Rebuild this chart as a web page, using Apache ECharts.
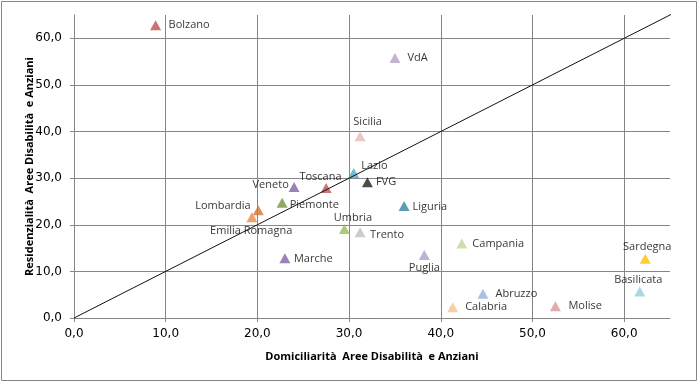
<!DOCTYPE html>
<html><head><meta charset="utf-8">
<script src="https://cdn.jsdelivr.net/npm/echarts@6/dist/echarts.min.js"></script>
<style>html,body{margin:0;padding:0;background:#fff}#c{width:698px;height:383px}</style>
</head><body><div id="c"></div>
<script>
// ---- data ----
const regions = ['Bolzano','VdA','Sicilia','Lazio','FVG','Toscana','Veneto','Piemonte','Lombardia','Emilia Romagna','Marche','Umbria','Trento','Liguria','Campania','Puglia','Sardegna','Basilicata','Abruzzo','Calabria','Molise'];
const domiciliarita = [8.9, 35.0, 31.2, 30.5, 32.0, 27.5, 24.0, 22.7, 20.1, 19.4, 23.0, 29.5, 31.2, 36.0, 42.3, 38.2, 62.3, 61.7, 44.6, 41.3, 52.5];
const residenzialita = [62.8, 55.8, 39.0, 31.1, 29.1, 27.9, 28.1, 24.7, 23.1, 21.6, 12.8, 19.1, 18.4, 24.0, 16.0, 13.5, 12.7, 5.7, 5.2, 2.3, 2.5];
const xTicks = [0, 10, 20, 30, 40, 50, 60];
const yTicks = [0, 10, 20, 30, 40, 50, 60];
const diagonal = [[0, 0], [65.3, 65.3]];

// ---- styles ----
const colors = ['#C0504D','#B3A2C7','#E6B9B8','#4BACC6','#1F1F1F','#C0504D','#8064A2','#77933C','#D2752F','#EE8A42','#8064A2','#9BBB59','#BFBFBF','#31859C','#C3D69B','#ADA0C9','#FFC000','#93CDDD','#95B3D7','#FAC090','#D99694'];
// [position, dx, dy]
const labelStyle = [
  ['right',7.5,0],['right',7,0],['top',7.5,-4],['right',2,-7.6],['right',3,0],
  ['top',-5.7,-0.3],['left',0.2,-1.7],['right',2,1.7],['left',-2.1,-4],['bottom',-0.7,3],
  ['right',3.5,0.3],['top',8.5,-0.6],['right',4.5,2.3],['right',3,0.6],['right',5,0],
  ['bottom',0,2.3],['top',2,-1.3],['top',-1.5,-1.4],['right',7,0],['right',7,0],['right',7.5,0]
];
const gray = '#868686';
const gridColors = [gray,gray,gray,gray,gray,gray,gray,'rgba(0,0,0,0)'];
const fmt = v => v.toFixed(1).replace('.', ',');

const points = regions.map((n, i) => ({
  name: n,
  value: [domiciliarita[i], residenzialita[i]],
  itemStyle: { color: colors[i] },
  label: { position: labelStyle[i][0], distance: 0, offset: [labelStyle[i][1], labelStyle[i][2]] }
}));

function axis(ticks, name, margin, gap) {
  return {
    type: 'value', min: 0, max: 65, interval: 10,
    name: name, nameLocation: 'middle', nameGap: gap, nameMoveOverlap: false,
    nameTextStyle: { fontFamily: 'Open Sans', fontWeight: 'bold', fontSize: 11, color: '#000' },
    axisLine: { show: true, lineStyle: { color: gray, width: 1 } },
    axisTick: { show: true, inside: false, length: 4, customValues: ticks, lineStyle: { color: gray } },
    axisLabel: { customValues: ticks, formatter: fmt, fontFamily: 'DejaVu Sans', fontSize: 12, color: '#000', margin: margin },
    splitLine: { show: true, lineStyle: { color: gridColors, width: 1 } }
  };
}

const chart = echarts.init(document.getElementById('c'), null, { renderer: 'canvas' });
chart.setOption({
  animation: false,
  backgroundColor: '#fff',
  grid: { left: 74, right: 28, top: 15, bottom: 65, containLabel: false },
  xAxis: axis(xTicks, 'Domiciliarità  Aree Disabilità  e Anziani', 10, 33),
  yAxis: axis(yTicks, 'Residenzialità  Aree Disabilità  e Anziani', 12, 39),
  graphic: [{ type: 'rect', shape: { x: 1.5, y: 1.5, width: 695, height: 379 }, style: { fill: 'none', stroke: gray, lineWidth: 1 }, silent: true }],
  series: [
    {
      type: 'scatter', symbol: 'triangle', symbolSize: [11, 10], data: points, z: 3,
      label: { show: true, formatter: '{b}', fontFamily: 'Open Sans', fontSize: 11, color: '#000' }
    },
    {
      type: 'line', data: diagonal, symbol: 'none', clip: false, z: 4,
      lineStyle: { color: '#111', width: 1 }
    }
  ]
});
</script></body></html>
